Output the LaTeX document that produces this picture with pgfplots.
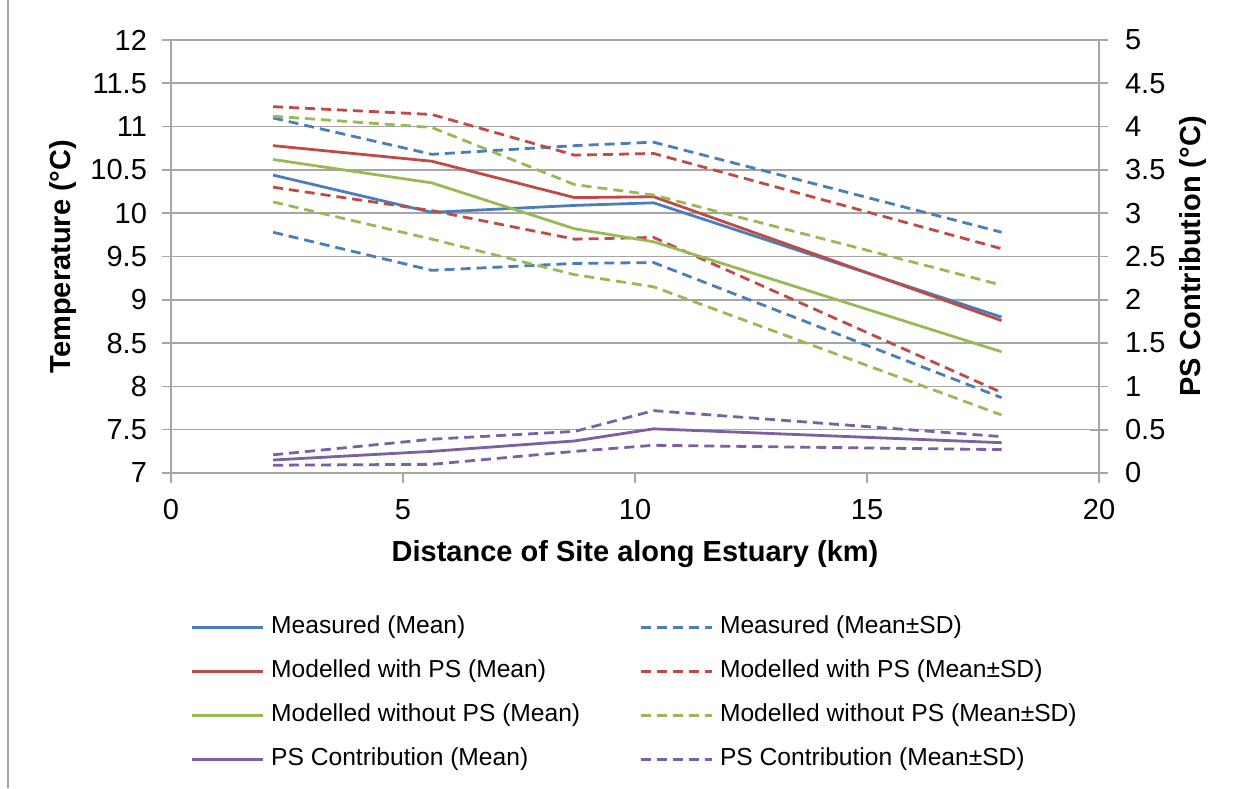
\documentclass[border=0pt]{standalone}
\usepackage{fontspec}
\setmainfont{Liberation Sans}
\usepackage{pgfplots}
\usepackage{pgfplotstable}
\pgfplotsset{compat=1.18}

\definecolor{cBlue}{HTML}{4A7EBB}
\definecolor{cRed}{HTML}{BE4B48}
\definecolor{cGreen}{HTML}{98B954}
\definecolor{cPurple}{HTML}{7D60A0}
\definecolor{cGrid}{HTML}{A6A6A6}

% temperatures (left axis, degC)
\pgfplotstableread{
x     meas  measU measL withps withpsU withpsL nops  nopsU nopsL
2.2   10.44 11.10 9.78  10.78  11.23   10.30   10.62 11.12 10.13
5.62  10.01 10.68 9.34  10.60  11.14   10.03   10.35 10.99 9.70
8.7   10.09 10.78 9.42  10.18  10.67   9.70    9.82  10.33 9.29
10.4  10.12 10.82 9.43  10.19  10.69   9.72    9.67  10.21 9.15
17.9  8.80  9.78  7.87  8.76   9.59    7.93    8.40  9.17  7.67
}\temps

% PS contribution (right axis, degC)
\pgfplotstableread{
x     ps    psU   psL
2.2   0.15  0.21  0.09
5.62  0.25  0.39  0.10
8.7   0.37  0.48  0.25
10.4  0.51  0.72  0.32
17.9  0.35  0.42  0.27
}\contrib

\pgfplotsset{
  frame/.style={scale only axis, width=464pt, height=216.5pt,
    at={(85.5pt,157.5pt)}, anchor=south west,
    xmin=0, xmax=20,
    axis line style={cGrid, line width=0.8pt, -},
    tick style={cGrid, line width=0.8pt},
    tick label style={font=\fontsize{14.5}{17}\selectfont},
    /pgf/number format/assume math mode=true,
    scaled ticks=false},
  sd/.style={line width=1.4pt, dash pattern=on 5pt off 3pt},
  mn/.style={line width=1.4pt},
}

\begin{document}
\begin{tikzpicture}
\path[use as bounding box] (0,0) rectangle (621.5pt,394pt);
\draw[cGrid, line width=0.8pt] (4pt,0) -- (4pt,394pt);

% x axis
\begin{axis}[frame,
  axis x line*=bottom, axis y line=none,
  ymin=7, ymax=12,
  xtick={0,5,10,15,20},
  xtick pos=bottom,
  major tick length=5pt, tick align=outside,
  xticklabel style={yshift=-4.5pt},
  xlabel={\bfseries Distance of Site along Estuary (km)},
  xlabel style={font=\fontsize{14.5}{17}\selectfont, at={(axis description cs:0.5,-0.2055)}, anchor=base},
]
\end{axis}

% left axis: temperatures
\begin{axis}[frame,
  axis x line=none, axis y line*=left,
  ymin=7, ymax=12,
  ytick={7,7.5,8,8.5,9,9.5,10,10.5,11,11.5,12},
  ytick pos=left,
  ymajorgrids, grid style={cGrid, line width=0.8pt},
  major tick length=9pt, tick align=center,
  yticklabel style={xshift=-4pt},
  ylabel={\bfseries Temperature (°C)},
  ylabel style={font=\fontsize{14.5}{17}\selectfont, at={(axis description cs:-0.1164,0.5)}, anchor=center, rotate=0},
]
\addplot[mn, cBlue] table[x=x, y=meas] {\temps};
\addplot[sd, cBlue] table[x=x, y=measU] {\temps};
\addplot[sd, cBlue] table[x=x, y=measL] {\temps};
\addplot[mn, cRed] table[x=x, y=withps] {\temps};
\addplot[sd, cRed] table[x=x, y=withpsU] {\temps};
\addplot[sd, cRed] table[x=x, y=withpsL] {\temps};
\addplot[mn, cGreen] table[x=x, y=nops] {\temps};
\addplot[sd, cGreen] table[x=x, y=nopsU] {\temps};
\addplot[sd, cGreen] table[x=x, y=nopsL] {\temps};
\end{axis}

% right axis: PS contribution
\begin{axis}[frame,
  axis x line=none, axis y line*=right,
  ymin=0, ymax=5,
  ytick={0,0.5,1,1.5,2,2.5,3,3.5,4,4.5,5},
  ytick pos=right,
  major tick length=9pt, tick align=center,
  yticklabel style={xshift=5pt},
  ylabel={\bfseries PS Contribution (°C)},
  ylabel style={font=\fontsize{14.5}{17}\selectfont, at={(axis description cs:1.1013,0.5)}, anchor=center, rotate=0},
  legend columns=2,
  legend cell align=left,
  legend image code/.code={\draw[#1] (0pt,0pt) -- (35.5pt,0pt);},
  legend style={draw=none, fill=none, inner sep=0pt,
    at={(axis description cs:0.0205,-0.328)}, anchor=north west,
    font=\fontsize{12.3}{14}\selectfont, row sep=10pt,
    nodes={inner sep=0pt, text height=9pt, text depth=3pt},
    /tikz/every odd column/.append style={column sep=3.5pt}},
]
\addlegendimage{mn, cBlue}
\addlegendentry{\makebox[184pt][l]{Measured (Mean)}}
\addlegendimage{sd, cBlue}
\addlegendentry{Measured (Mean±SD)}
\addlegendimage{mn, cRed}
\addlegendentry{\makebox[184pt][l]{Modelled with PS (Mean)}}
\addlegendimage{sd, cRed}
\addlegendentry{Modelled with PS (Mean±SD)}
\addlegendimage{mn, cGreen}
\addlegendentry{\makebox[184pt][l]{Modelled without PS (Mean)}}
\addlegendimage{sd, cGreen}
\addlegendentry{Modelled without PS (Mean±SD)}
\addplot[mn, cPurple] table[x=x, y=ps] {\contrib};
\addlegendentry{\makebox[184pt][l]{PS Contribution (Mean)}}
\addplot[sd, cPurple] table[x=x, y=psU] {\contrib};
\addlegendentry{PS Contribution (Mean±SD)}
\addplot[sd, cPurple, forget plot] table[x=x, y=psL] {\contrib};
\end{axis}
\end{tikzpicture}
\end{document}
